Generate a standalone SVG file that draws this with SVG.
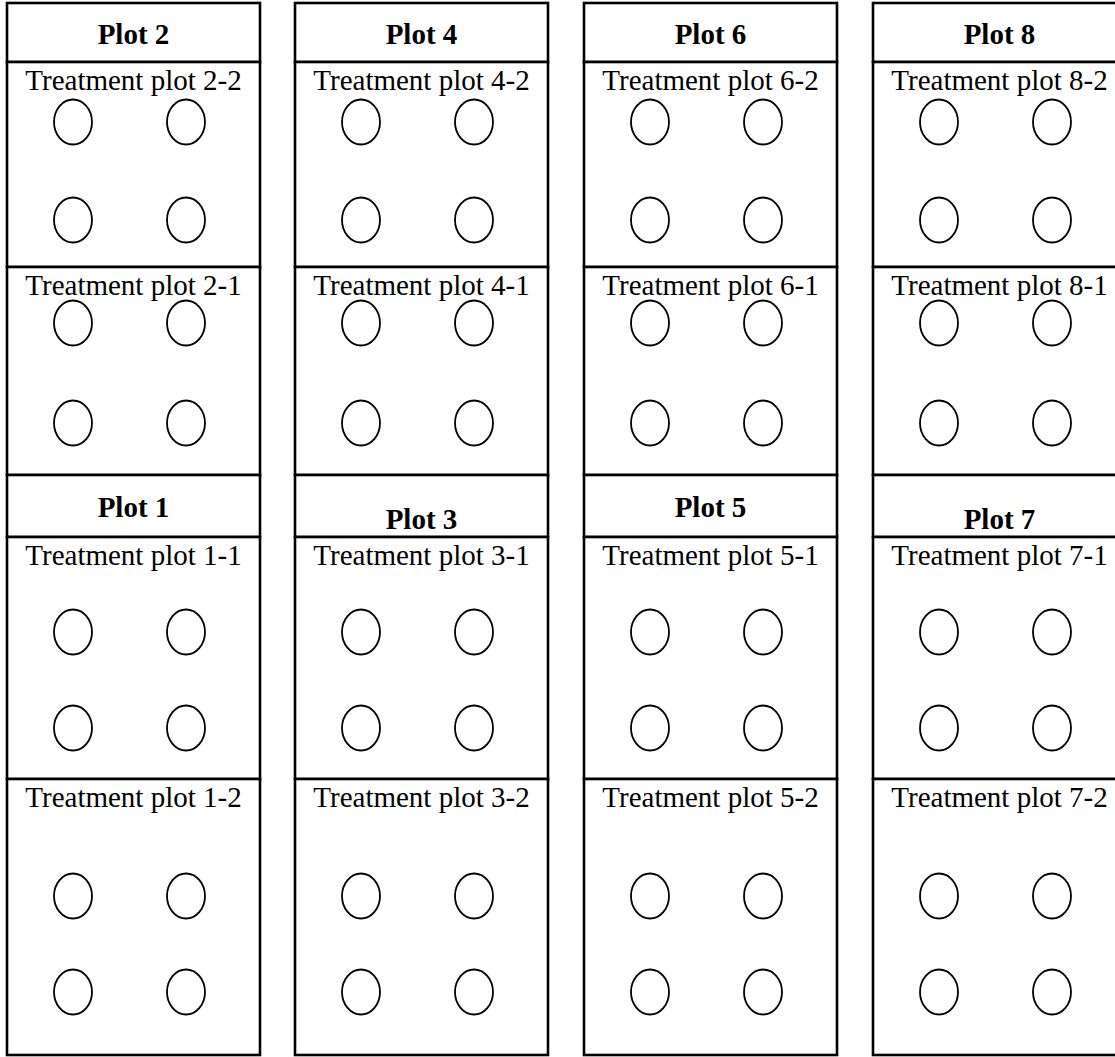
<svg xmlns="http://www.w3.org/2000/svg" width="1115" height="1057" viewBox="0 0 1115 1057">
<style>
.box{fill:#fff;stroke:#000;stroke-width:2.6}
.hd{font-family:"Liberation Serif","Times New Roman",serif;font-weight:bold;font-size:29px;text-anchor:middle;fill:#000}
.tp{font-family:"Liberation Serif","Times New Roman",serif;font-size:29px;text-anchor:middle;fill:#000}
.c{fill:none;stroke:#000;stroke-width:1.8}
</style>
<rect width="1115" height="1057" fill="#fff"/>
<defs>
<g id="pair2"><ellipse class="c" cx="66" cy="0" rx="19" ry="22.5"/><ellipse class="c" cx="179" cy="0" rx="19" ry="22.5"/></g>
</defs>

<!-- Column 1 -->
<g id="plot2"><rect class="box" x="7" y="3" width="253" height="59"/><text class="hd" x="133.5" y="44">Plot 2</text></g>
<g id="tp2-2"><rect class="box" x="7" y="62" width="253" height="205"/><text class="tp" x="133.5" y="90">Treatment plot 2-2</text><use href="#pair2" x="7" y="122"/><use href="#pair2" x="7" y="220"/></g>
<g id="tp2-1"><rect class="box" x="7" y="267" width="253" height="208"/><text class="tp" x="133.5" y="295">Treatment plot 2-1</text><use href="#pair2" x="7" y="323"/><use href="#pair2" x="7" y="423"/></g>
<g id="plot1"><rect class="box" x="7" y="475" width="253" height="62"/><text class="hd" x="133.5" y="517">Plot 1</text></g>
<g id="tp1-1"><rect class="box" x="7" y="537" width="253" height="242"/><text class="tp" x="133.5" y="565">Treatment plot 1-1</text><use href="#pair2" x="7" y="632"/><use href="#pair2" x="7" y="728"/></g>
<g id="tp1-2"><rect class="box" x="7" y="779" width="253" height="276"/><text class="tp" x="133.5" y="807">Treatment plot 1-2</text><use href="#pair2" x="7" y="896"/><use href="#pair2" x="7" y="992"/></g>

<!-- Column 2 -->
<g id="plot4"><rect class="box" x="295" y="3" width="253" height="59"/><text class="hd" x="421.5" y="44">Plot 4</text></g>
<g id="tp4-2"><rect class="box" x="295" y="62" width="253" height="205"/><text class="tp" x="421.5" y="90">Treatment plot 4-2</text><use href="#pair2" x="295" y="122"/><use href="#pair2" x="295" y="220"/></g>
<g id="tp4-1"><rect class="box" x="295" y="267" width="253" height="208"/><text class="tp" x="421.5" y="295">Treatment plot 4-1</text><use href="#pair2" x="295" y="323"/><use href="#pair2" x="295" y="423"/></g>
<g id="plot3"><rect class="box" x="295" y="475" width="253" height="62"/><text class="hd" x="421.5" y="529">Plot 3</text></g>
<g id="tp3-1"><rect class="box" x="295" y="537" width="253" height="242"/><text class="tp" x="421.5" y="565">Treatment plot 3-1</text><use href="#pair2" x="295" y="632"/><use href="#pair2" x="295" y="728"/></g>
<g id="tp3-2"><rect class="box" x="295" y="779" width="253" height="276"/><text class="tp" x="421.5" y="807">Treatment plot 3-2</text><use href="#pair2" x="295" y="896"/><use href="#pair2" x="295" y="992"/></g>

<!-- Column 3 -->
<g id="plot6"><rect class="box" x="584" y="3" width="253" height="59"/><text class="hd" x="710.5" y="44">Plot 6</text></g>
<g id="tp6-2"><rect class="box" x="584" y="62" width="253" height="205"/><text class="tp" x="710.5" y="90">Treatment plot 6-2</text><use href="#pair2" x="584" y="122"/><use href="#pair2" x="584" y="220"/></g>
<g id="tp6-1"><rect class="box" x="584" y="267" width="253" height="208"/><text class="tp" x="710.5" y="295">Treatment plot 6-1</text><use href="#pair2" x="584" y="323"/><use href="#pair2" x="584" y="423"/></g>
<g id="plot5"><rect class="box" x="584" y="475" width="253" height="62"/><text class="hd" x="710.5" y="517">Plot 5</text></g>
<g id="tp5-1"><rect class="box" x="584" y="537" width="253" height="242"/><text class="tp" x="710.5" y="565">Treatment plot 5-1</text><use href="#pair2" x="584" y="632"/><use href="#pair2" x="584" y="728"/></g>
<g id="tp5-2"><rect class="box" x="584" y="779" width="253" height="276"/><text class="tp" x="710.5" y="807">Treatment plot 5-2</text><use href="#pair2" x="584" y="896"/><use href="#pair2" x="584" y="992"/></g>

<!-- Column 4 -->
<g id="plot8"><rect class="box" x="873" y="3" width="253" height="59"/><text class="hd" x="999.5" y="44">Plot 8</text></g>
<g id="tp8-2"><rect class="box" x="873" y="62" width="253" height="205"/><text class="tp" x="999.5" y="90">Treatment plot 8-2</text><use href="#pair2" x="873" y="122"/><use href="#pair2" x="873" y="220"/></g>
<g id="tp8-1"><rect class="box" x="873" y="267" width="253" height="208"/><text class="tp" x="999.5" y="295">Treatment plot 8-1</text><use href="#pair2" x="873" y="323"/><use href="#pair2" x="873" y="423"/></g>
<g id="plot7"><rect class="box" x="873" y="475" width="253" height="62"/><text class="hd" x="999.5" y="529">Plot 7</text></g>
<g id="tp7-1"><rect class="box" x="873" y="537" width="253" height="242"/><text class="tp" x="999.5" y="565">Treatment plot 7-1</text><use href="#pair2" x="873" y="632"/><use href="#pair2" x="873" y="728"/></g>
<g id="tp7-2"><rect class="box" x="873" y="779" width="253" height="276"/><text class="tp" x="999.5" y="807">Treatment plot 7-2</text><use href="#pair2" x="873" y="896"/><use href="#pair2" x="873" y="992"/></g>

<g id="connectors"/>
</svg>
